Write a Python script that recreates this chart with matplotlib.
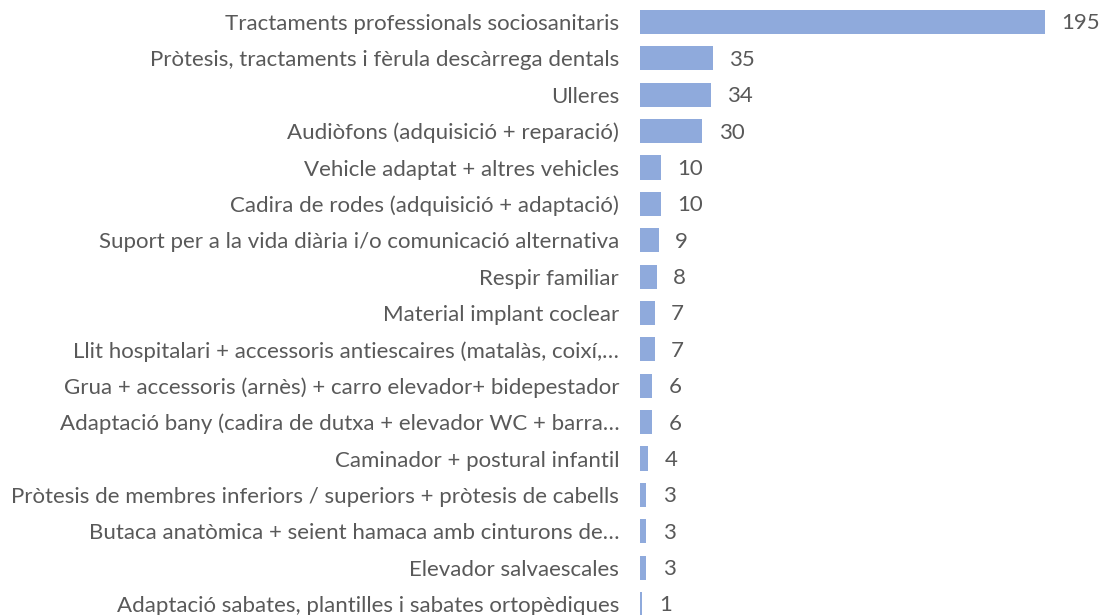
import matplotlib.pyplot as plt

categories = [
    "Tractaments professionals sociosanitaris",
    "Pròtesis, tractaments i fèrula descàrrega dentals",
    "Ulleres",
    "Audiòfons (adquisició + reparació)",
    "Vehicle adaptat + altres vehicles",
    "Cadira de rodes (adquisició + adaptació)",
    "Suport per a la vida diària i/o comunicació alternativa",
    "Respir familiar",
    "Material implant coclear",
    "Llit hospitalari + accessoris antiescaires (matalàs, coixí,…",
    "Grua + accessoris (arnès) + carro elevador+ bidepestador",
    "Adaptació bany (cadira de dutxa + elevador WC + barra…",
    "Caminador + postural infantil",
    "Pròtesis de membres inferiors / superiors + pròtesis de cabells",
    "Butaca anatòmica + seient hamaca amb cinturons de…",
    "Elevador salvaescales",
    "Adaptació sabates, plantilles i sabates ortopèdiques",
]
values = [195, 35, 34, 30, 10, 10, 9, 8, 7, 7, 6, 6, 4, 3, 3, 3, 1]

bar_color = "#8FAADC"
text_color = "#595959"

plt.rcParams["font.family"] = ["Lato", "DejaVu Sans"]

fig = plt.figure(figsize=(10.99, 6.15), dpi=100)
ax = fig.add_axes([640 / 1099, 0, (1076 - 640) / 1099, 1])

pos = list(range(len(categories)))
bars = ax.barh(pos, values, height=0.66, color=bar_color)

ax.set_xlim(0, 210)
ax.set_ylim(16 + 11 * 16 / 582, -22 * 16 / 582)

ax.set_yticks(pos)
ax.set_yticklabels(categories, fontsize=16, color=text_color)
ax.tick_params(axis="y", length=0, pad=15)
ax.set_xticks([])
for s in ax.spines.values():
    s.set_visible(False)

for b, v in zip(bars, values):
    ax.annotate(str(v), xy=(b.get_width(), b.get_y() + b.get_height() / 2),
                xytext=(12, -1), textcoords="offset points",
                ha="left", va="center", fontsize=16, color=text_color)

fig.savefig("out.png", dpi=100)
